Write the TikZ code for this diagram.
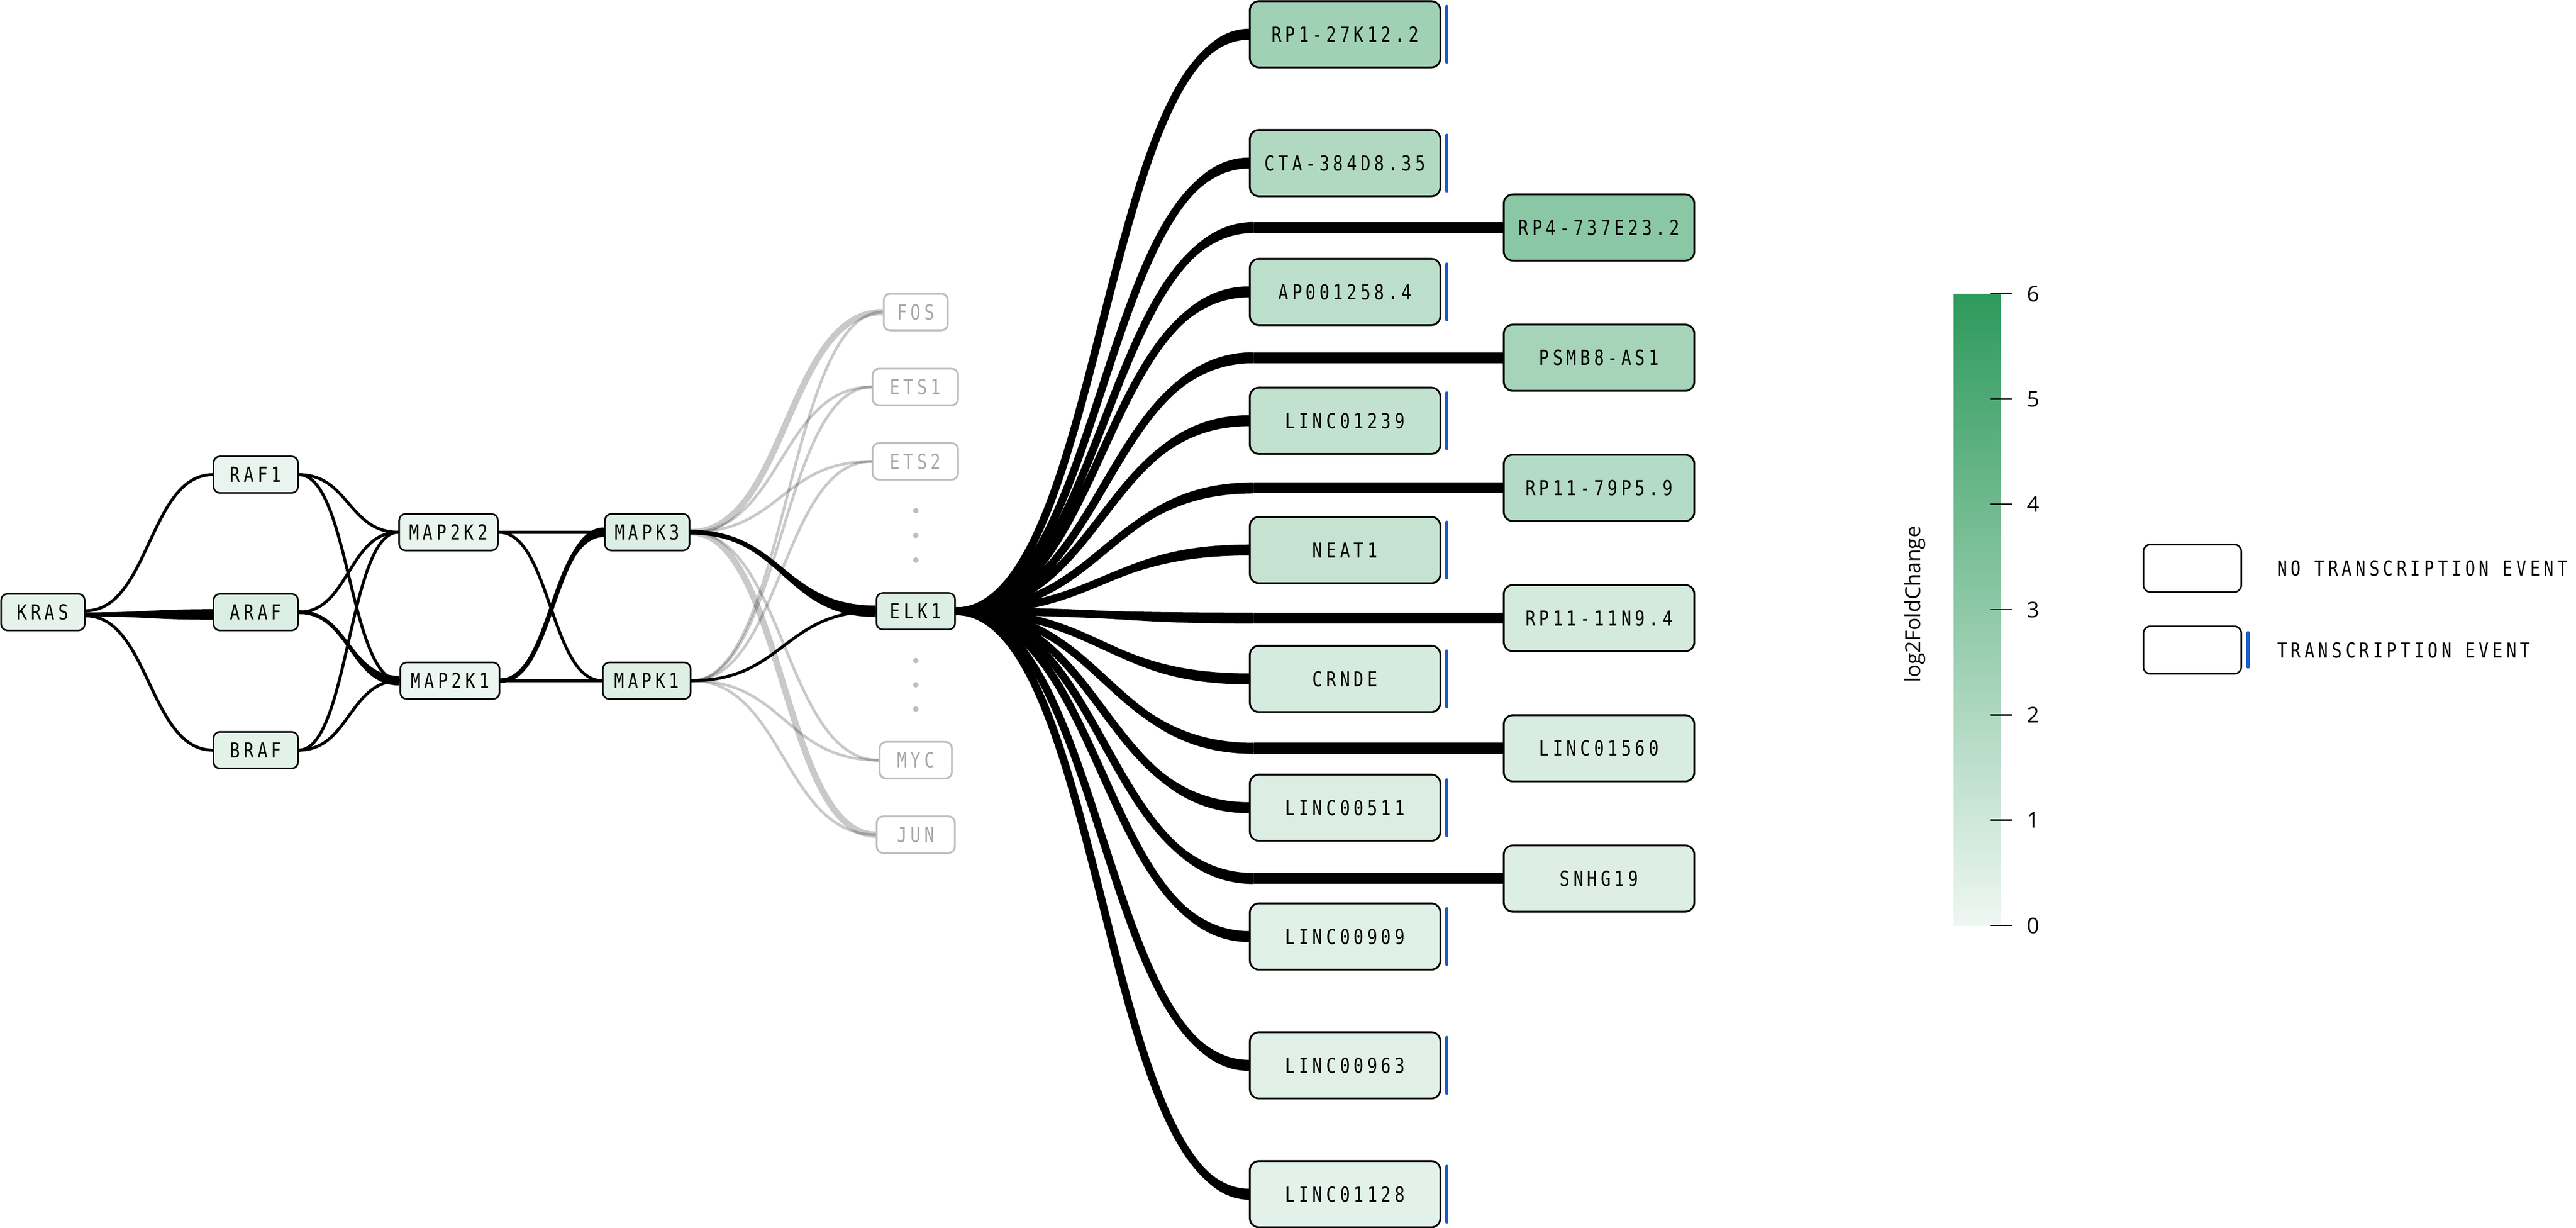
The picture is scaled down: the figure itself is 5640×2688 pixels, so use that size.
\documentclass[tikz,border=0pt]{standalone}
\usepackage{fontspec}
\usetikzlibrary{calc}
\newfontfamily\labfont[FakeStretch=0.8,LetterSpace=18]{DejaVu Sans Mono}
\newfontfamily\cbfont{Open Sans}
\definecolor{cbz}{RGB}{238,247,242}
\definecolor{cbs}{RGB}{46,154,92}
\definecolor{tblue}{RGB}{26,95,204}
\definecolor{gtext}{RGB}{168,168,168}
\definecolor{gbord}{RGB}{190,190,190}
\pgfdeclarelayer{bg}
\pgfdeclarelayer{edges}
\pgfsetlayers{bg,edges,main}
\newcommand\sedge[3][]{\draw[#1] let \p1=(#2), \p2=(#3), \p3=($(\p1)!0.5!(\p2)$) in (\p1) .. controls (\x3,\y1) and (\x3,\y2) .. (\p2);}
\newcommand\tedge[5][]{\fill[#1] let \p1=(#2), \p2=(#3), \p3=($(\p1)!0.5!(\p2)$) in (\x1,\y1+#4) .. controls (\x3,\y1+#4) and (\x3,\y2+#5) .. (\x2,\y2+#5) -- (\x2,\y2-#5) .. controls (\x3,\y2-#5) and (\x3,\y1-#4) .. (\x1,\y1-#4) -- cycle;}
\newcommand\bbar[1]{\draw[tbar] ($(#1.east)+(12,-61)$) -- ($(#1.east)+(12,61)$);}
\begin{document}
\begin{tikzpicture}[x=0.01cm,y=-0.01cm,
  lnode/.style={draw, line width=0.035cm, rounded corners=0.14cm, minimum height=0.8cm, inner sep=0pt, font={\labfont\fontsize{12.9}{14}\selectfont}},
  gnode/.style={lnode, draw=gbord, text=gtext, fill=white, line width=0.04cm},
  rnode/.style={lnode, line width=0.04cm, rounded corners=0.2cm, minimum width=4.17cm, minimum height=1.45cm},
  bl/.style={line width=0.065cm},
  fan/.style={line width=0.17cm},
  gedge/.style={line width=0.06cm, draw=black, draw opacity=0.21},
  gthick/.style={line width=0.14cm, draw=black, draw opacity=0.21},
  tbar/.style={draw=tblue, line width=0.07cm, line cap=round},
  tick/.style={line width=0.03cm},
  cblab/.style={font={\cbfont\fontsize{13.5}{15}\selectfont}, inner sep=0pt},
  legtxt/.style={font={\labfont\fontsize{12.9}{14}\selectfont}, inner sep=0pt, anchor=west},
  legbox/.style={draw, line width=0.035cm, rounded corners=0.15cm, fill=white, minimum width=2.14cm, minimum height=1.04cm, inner sep=0pt}
]
\useasboundingbox (0,0) rectangle (5640,2688);
\begin{pgfonlayer}{bg}
\fill[white] (0,0) rectangle (5640,2688);
\end{pgfonlayer}

% left nodes
\node[lnode, fill=cbs!4.7!cbz, minimum width=1.83cm] (kras) at (94,1340) {KRAS};
\node[lnode, fill=cbs!3.1!cbz, minimum width=1.85cm] (raf1) at (560,1039) {RAF1};
\node[lnode, fill=cbs!10!cbz, minimum width=1.85cm] (araf) at (560,1340) {ARAF};
\node[lnode, fill=cbs!5.7!cbz, minimum width=1.85cm] (braf) at (560,1642) {BRAF};
\node[lnode, fill=cbs!3.1!cbz, minimum width=2.16cm] (map2k2) at (982,1165) {MAP2K2};
\node[lnode, fill=cbs!1.6!cbz, minimum width=2.17cm] (map2k1) at (985,1490) {MAP2K1};
\node[lnode, fill=cbs!8.9!cbz, minimum width=1.85cm] (mapk3) at (1417,1165) {MAPK3};
\node[lnode, fill=cbs!8.3!cbz, minimum width=1.92cm] (mapk1) at (1416,1490) {MAPK1};
\node[lnode, fill=cbs!8.9!cbz, minimum width=1.72cm] (elk) at (2005,1338) {ELK1};

% grey nodes
\node[gnode, minimum width=1.40cm] (fos) at (2005,683) {FOS};
\node[gnode, minimum width=1.87cm] (ets1) at (2004,847) {ETS1};
\node[gnode, minimum width=1.87cm] (ets2) at (2004,1010) {ETS2};
\node[gnode, minimum width=1.58cm] (myc) at (2005,1664) {MYC};
\node[gnode, minimum width=1.71cm] (jun) at (2005,1827) {JUN};
\foreach \yy in {1118,1172,1226,1446,1499,1552} \fill[gbord] (2005,\yy) circle (0.06cm);

% right column nodes
\node[rnode, fill=cbs!40.6!cbz] (n0) at (2945,75) {RP1-27K12.2};
\node[rnode, fill=cbs!32!cbz] (n1) at (2945,357) {CTA-384D8.35};
\node[rnode, fill=cbs!26!cbz] (n2) at (2945,639) {AP001258.4};
\node[rnode, fill=cbs!23!cbz] (n3) at (2945,921) {LINC01239};
\node[rnode, fill=cbs!21!cbz] (n4) at (2945,1204) {NEAT1};
\node[rnode, fill=cbs!12.5!cbz] (n5) at (2945,1486) {CRNDE};
\node[rnode, fill=cbs!9.5!cbz] (n6) at (2945,1768) {LINC00511};
\node[rnode, fill=cbs!8!cbz] (n7) at (2945,2050) {LINC00909};
\node[rnode, fill=cbs!7.5!cbz] (n8) at (2945,2332) {LINC00963};
\node[rnode, fill=cbs!6!cbz] (n9) at (2945,2614) {LINC01128};
\node[rnode, fill=cbs!52!cbz] (m0) at (3501,498) {RP4-737E23.2};
\node[rnode, fill=cbs!38!cbz] (m1) at (3501,783) {PSMB8-AS1};
\node[rnode, fill=cbs!30!cbz] (m2) at (3501,1068) {RP11-79P5.9};
\node[rnode, fill=cbs!14!cbz] (m3) at (3501,1353) {RP11-11N9.4};
\node[rnode, fill=cbs!11.5!cbz] (m4) at (3501,1638) {LINC01560};
\node[rnode, fill=cbs!9!cbz] (m5) at (3501,1923) {SNHG19};
\foreach \i in {0,...,9} {\bbar{n\i}}

\foreach \i/\yy in {0/498,1/783,2/1068,3/1353,4/1638,5/1923} {\coordinate (b\i) at (2745,\yy);}

\begin{pgfonlayer}{edges}
% KRAS -> RAFs
\sedge[bl]{$(kras.east)+(0,-3)$}{raf1.west}
\sedge[bl]{$(kras.east)+(0,8)$}{braf.west}
\tedge{$(kras.east)+(0,5)$}{$(araf.west)+(0,5)$}{0.045cm}{0.115cm}
% RAFs -> MAP2Ks
\sedge[bl]{raf1.east}{map2k2.west}
\sedge[bl]{raf1.east}{map2k1.west}
\sedge[bl]{araf.east}{map2k2.west}
\sedge[line width=0.08cm]{araf.east}{map2k1.west}
\tedge{araf.east}{map2k1.west}{0.04cm}{0.105cm}
\sedge[bl]{braf.east}{map2k2.west}
\sedge[bl]{braf.east}{map2k1.west}
% MAP2Ks -> MAPKs
\draw[bl] (map2k2.east) -- (mapk3.west);
\draw[bl] (map2k1.east) -- (mapk1.west);
\sedge[bl]{map2k2.east}{mapk1.west}
\sedge[line width=0.1cm]{map2k1.east}{mapk3.west}
\tedge{map2k1.east}{mapk3.west}{0.045cm}{0.105cm}
% grey edges
\sedge[gthick]{mapk3.east}{fos.west}
\sedge[gedge]{mapk3.east}{ets1.west}
\sedge[gedge]{mapk3.east}{ets2.west}
\sedge[gedge]{mapk3.east}{myc.west}
\sedge[gthick]{mapk3.east}{jun.west}
\sedge[gedge]{mapk1.east}{fos.west}
\sedge[gedge]{mapk1.east}{ets1.west}
\sedge[gedge]{mapk1.east}{ets2.west}
\sedge[gedge]{mapk1.east}{myc.west}
\sedge[gedge]{mapk1.east}{jun.west}
% MAPKs -> ELK1
\sedge[line width=0.1cm]{mapk3.east}{elk.west}
\tedge{mapk3.east}{elk.west}{0.045cm}{0.125cm}
\sedge[line width=0.065cm]{mapk1.east}{elk.west}
% fan
\foreach \i in {0,...,9} {
  \sedge[fan]{elk.east}{n\i.west}
  \tedge{elk.east}{n\i.west}{0.04cm}{0.12cm}
}
\foreach \i in {0,...,5} {
  \sedge[fan]{elk.east}{b\i}
  \tedge{elk.east}{b\i}{0.04cm}{0.12cm}
  \draw[line width=0.24cm] (b\i) -- (m\i.west);
}
\end{pgfonlayer}

% colour bar
\shade[bottom color=cbz, top color=cbs] (4278,643) rectangle (4381,2026);
\foreach \k in {0,...,6} {
  \draw[tick] (4359,{2026-230.5*\k}) -- (4405,{2026-230.5*\k});
  \node[cblab] (t\k) at (4452,{2026-230.5*\k}) {\k};
}
\node[font={\cbfont\fontsize{13}{15}\selectfont}, rotate=90, anchor=base, inner sep=0pt] (cbtitle) at (4205,1323) {log2FoldChange};

% legend
\node[legbox] (lb1) at (4800,1244) {};
\node[legbox] (lb2) at (4800,1423) {};
\draw[tbar] (4922,1385) -- (4922,1460);
\node[legtxt] (lt1) at (4985,1244) {NO TRANSCRIPTION EVENT};
\node[legtxt] (lt2) at (4985,1423) {TRANSCRIPTION EVENT};
\end{tikzpicture}
\end{document}
